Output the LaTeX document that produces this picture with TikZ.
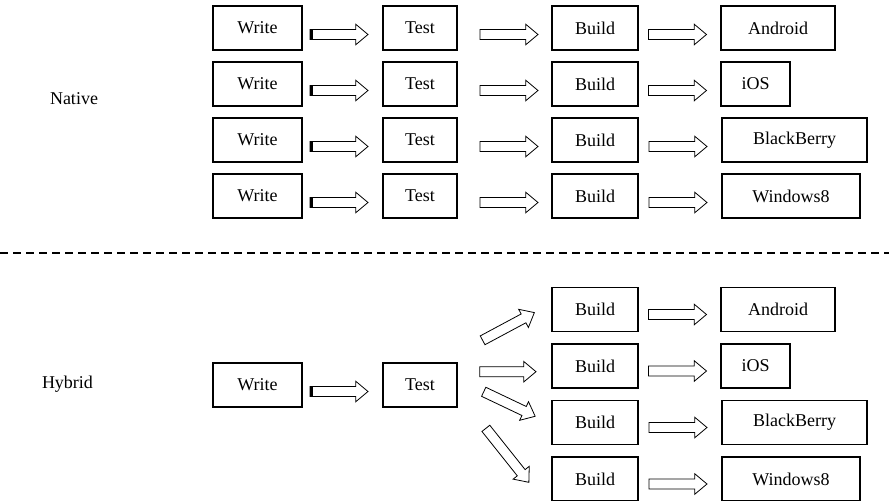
\documentclass[tikz,border=0pt]{standalone}
\usepackage{fontspec}
\setmainfont{Liberation Serif}
\usepackage{tikz}
\usetikzlibrary{shapes,arrows}

\begin{document}
\begin{tikzpicture}[font=\fontsize{18bp}{22bp}\selectfont]
\tikzstyle{box}=[draw,line width=1.1bp,minimum height=44bp,inner sep=0pt]%
\tikzstyle{writebox}=[box,minimum width=89bp]%
\tikzstyle{testbox}=[box,minimum width=74bp]%
\tikzstyle{buildbox}=[box,minimum width=86bp]%
\tikzstyle{fatarrow}=[draw,line width=0.8bp,single arrow,single arrow head extend=5.3bp,
  single arrow tip angle=80,inner sep=0pt,inner ysep=4.6bp,minimum width=19.8bp,minimum height=58bp]%
\useasboundingbox (0,0) rectangle (889bp,-501bp);

  \node (nat) at (74bp,-99bp) {Native};
  \node (hyb) at (67.5bp,-384bp) {Hybrid};

  % native
  \node (w1) at (257.5bp,-28bp) [writebox] {Write};
  \node (t1) at (420bp,-28bp) [testbox] {Test};
  \node (b1) at (595bp,-28bp) [buildbox] {Build};
  \node (p1) at (778bp,-28bp) [box,minimum width=114bp] {Android};
  \node (w2) at (257.5bp,-84bp) [writebox] {Write};
  \node (t2) at (420bp,-84bp) [testbox] {Test};
  \node (b2) at (595bp,-84bp) [buildbox] {Build};
  \node (p2) at (755.5bp,-84bp) [box,minimum width=69bp] {iOS};
  \node (w3) at (257.5bp,-140bp) [writebox] {Write};
  \node (t3) at (420bp,-140bp) [testbox] {Test};
  \node (b3) at (595bp,-140bp) [buildbox] {Build};
  \node (p3) at (794.5bp,-140bp) [box,minimum width=145bp] {BlackBerry};
  \node (w4) at (257.5bp,-196bp) [writebox] {Write};
  \node (t4) at (420bp,-196bp) [testbox] {Test};
  \node (b4) at (595bp,-196bp) [buildbox] {Build};
  \node (p4) at (791bp,-196bp) [box,minimum width=138bp] {Windows8};

  \path (w1.east) -- (t1.west) node[fatarrow,midway,xshift=-6.5bp,yshift=-6.5bp] (wa1) {};
  \path (t1.east) -- (b1.west) node[fatarrow,midway,xshift=1.5bp,yshift=-6.5bp] (ta1) {};
  \path (b1.east) -- (p1.west) node[fatarrow,midway,xshift=-5bp,yshift=-6.5bp] (ba1) {};
  \path (w2.east) -- (t2.west) node[fatarrow,midway,xshift=-6.5bp,yshift=-6.5bp] (wa2) {};
  \path (t2.east) -- (b2.west) node[fatarrow,midway,xshift=1.5bp,yshift=-6.5bp] (ta2) {};
  \path (b2.east) -- (p2.west) node[fatarrow,midway,xshift=-5bp,yshift=-6.5bp] (ba2) {};
  \path (w3.east) -- (t3.west) node[fatarrow,midway,xshift=-6.5bp,yshift=-6.5bp] (wa3) {};
  \path (t3.east) -- (b3.west) node[fatarrow,midway,xshift=1.5bp,yshift=-6.5bp] (ta3) {};
  \path (b3.east) -- (p3.west) node[fatarrow,midway,xshift=-5bp,yshift=-6.5bp] (ba3) {};
  \path (w4.east) -- (t4.west) node[fatarrow,midway,xshift=-6.5bp,yshift=-6.5bp] (wa4) {};
  \path (t4.east) -- (b4.west) node[fatarrow,midway,xshift=1.5bp,yshift=-6.5bp] (ta4) {};
  \path (b4.east) -- (p4.west) node[fatarrow,midway,xshift=-5bp,yshift=-6.5bp] (ba4) {};

  \coordinate (dl) at (0bp,-253bp);
  \coordinate (dr) at (889bp,-253bp);
  \draw [line width=1.3bp,dash pattern=on 8bp off 5bp] (dl) -- (dr);

  % hybrid
  \node (w5) at (257.5bp,-385bp) [writebox] {Write};
  \node (t5) at (420bp,-385bp) [testbox] {Test};
  \node (b5) at (595bp,-309.5bp) [buildbox] {Build};
  \node (p5) at (778bp,-309.5bp) [box,minimum width=114bp] {Android};
  \node (b6) at (595bp,-366bp) [buildbox] {Build};
  \node (p6) at (755.5bp,-366bp) [box,minimum width=69bp] {iOS};
  \node (b7) at (595bp,-422.5bp) [buildbox] {Build};
  \node (p7) at (794.5bp,-422.5bp) [box,minimum width=145bp] {BlackBerry};
  \node (b8) at (595bp,-479bp) [buildbox] {Build};
  \node (p8) at (791bp,-479bp) [box,minimum width=138bp] {Windows8};

  \path (w5.east) -- (t5.west) node[fatarrow,midway,xshift=-6.5bp,yshift=-6.5bp] (wa5) {};
  \path (b5.east) -- (p5.west) node[fatarrow,midway,xshift=-5bp,yshift=-5bp] (ba5) {};
  \path (b6.east) -- (p6.west) node[fatarrow,midway,xshift=-5bp,yshift=-5bp] (ba6) {};
  \path (b7.east) -- (p7.west) node[fatarrow,midway,xshift=-5bp,yshift=-5bp] (ba7) {};
  \path (b8.east) -- (p8.west) node[fatarrow,midway,xshift=-5bp,yshift=-5bp] (ba8) {};

  \coordinate (s5) at (480bp,-341.7bp);   \coordinate (e5) at (531.7bp,-314bp);
  \coordinate (s6) at (476.7bp,-371.7bp); \coordinate (e6) at (533bp,-371.7bp);
  \coordinate (s7) at (481bp,-390.5bp);   \coordinate (e7) at (532.5bp,-415bp);
  \coordinate (s8) at (484bp,-426bp);     \coordinate (e8) at (527bp,-480bp);
  \path (s5) -- (e5) node[fatarrow,sloped,midway,minimum height=58.7bp] (ta5) {};
  \path (s6) -- (e6) node[fatarrow,sloped,midway,minimum height=56.3bp] (ta6) {};
  \path (s7) -- (e7) node[fatarrow,sloped,midway,minimum height=57bp] (ta7) {};
  \path (s8) -- (e8) node[fatarrow,sloped,midway,minimum height=69bp] (ta8) {};

  % dark tail of the write arrows
  \draw [line width=3.5bp] ([xshift=1.75bp]wa1.before tail) -- ([xshift=1.75bp]wa1.after tail);
  \draw [line width=3.5bp] ([xshift=1.75bp]wa2.before tail) -- ([xshift=1.75bp]wa2.after tail);
  \draw [line width=3.5bp] ([xshift=1.75bp]wa3.before tail) -- ([xshift=1.75bp]wa3.after tail);
  \draw [line width=3.5bp] ([xshift=1.75bp]wa4.before tail) -- ([xshift=1.75bp]wa4.after tail);
  \draw [line width=3.5bp] ([xshift=1.75bp]wa5.before tail) -- ([xshift=1.75bp]wa5.after tail);

\end{tikzpicture}
\end{document}
